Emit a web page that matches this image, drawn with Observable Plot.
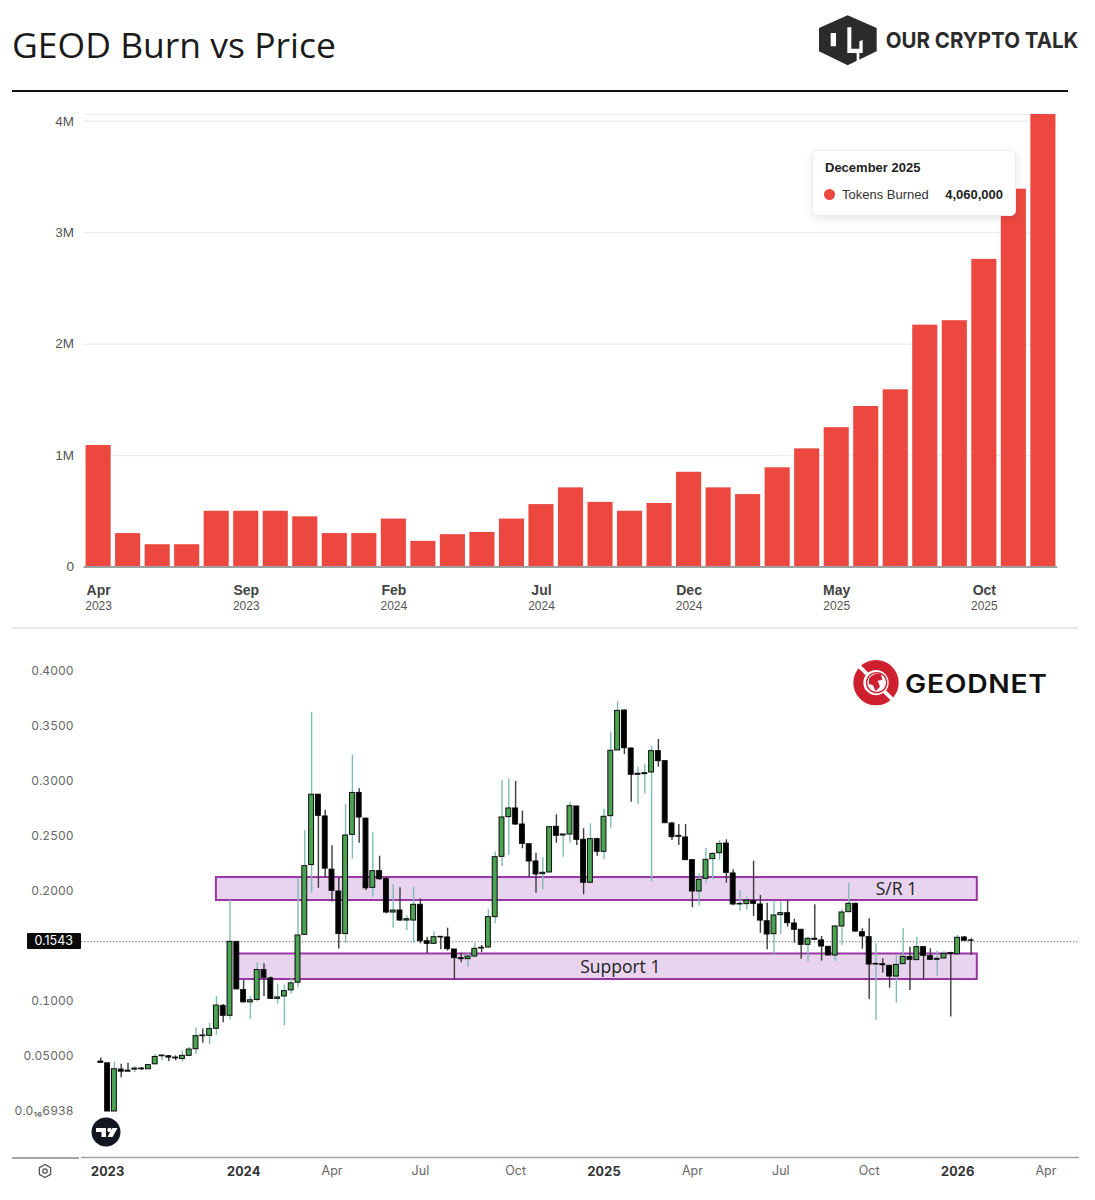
<!DOCTYPE html>
<html><head><meta charset="utf-8">
<script src="https://cdn.jsdelivr.net/npm/d3@7"></script>
<script src="https://cdn.jsdelivr.net/npm/@observablehq/plot@0.6"></script>
<style>
html,body{margin:0;padding:0;background:#fff;overflow:hidden}
#page{position:relative;width:1095px;height:1200px;overflow:hidden}
#page>*{position:absolute}
h1{margin:0;left:12px;top:20px;font:400 35.5px/48px "Open Sans",sans-serif;color:#1a1a1a;white-space:nowrap}
#tip{left:812px;top:150px;width:202px;height:64px;background:#fff;border:1px solid #eee;border-radius:5px;box-shadow:0 3px 10px rgba(0,0,0,.1);font-family:"Liberation Sans",sans-serif;color:#222;z-index:3}
#tip>*{position:absolute}
#pill{left:27px;top:933px;width:54px;height:16px;background:#0a0a0a;color:#fff;font:12.5px/16px Inter,sans-serif;text-align:right;padding-right:8px;box-sizing:border-box;border-radius:1px;z-index:3}
svg{overflow:visible}
</style></head><body><div id="page">
<h1>GEOD Burn vs Price</h1>
<svg style="left:810px;top:8px" width="275" height="65" viewBox="0 0 825 195">
  <path fill="#2b2b2b" d="M113 22L200 60V130L113 172L27 130V60Z"/>
  <path fill="#fff" d="M62 75H78V115H62ZM112 58H124V122H148V100L158 96V135H148V170H140V135H112Z"/>
  <text x="227" y="120" font-family="Inter,sans-serif" font-weight="700" font-size="66" fill="#2b2b2b" textLength="578" lengthAdjust="spacingAndGlyphs">OUR CRYPTO TALK</text>
</svg>
<div style="left:12px;top:90px;width:1056px;height:2px;background:#111"></div>
<div style="left:12px;top:627px;width:1066px;height:2px;background:#e8e8e8"></div>
<div id="top" style="left:0;top:100px"></div>
<div id="tip">
  <div style="left:12px;top:9px;font-size:13px;font-weight:bold">December 2025</div>
  <div style="left:11px;top:38px;width:11px;height:11px;border-radius:50%;background:#ec4840"></div>
  <div style="left:29px;top:36px;font-size:13px;color:#333">Tokens Burned</div>
  <div style="right:12px;top:36px;font-size:13px;font-weight:bold">4,060,000</div>
</div>
<div id="bottom" style="left:0;top:640px"></div>
<div style="left:12px;top:1157px;width:67px;height:1.5px;background:#a5a5a5"></div>
<div id="pill">0.1543</div>
<svg style="left:845px;top:652px" width="210" height="60" viewBox="0 0 630 180">
  <circle cx="93" cy="92" r="53" fill="none" stroke="#cf2030" stroke-width="30"/>
  <path d="M40 40L145 145" stroke="#fff" stroke-width="11"/>
  <circle cx="95" cy="92" r="30" fill="#fff" stroke="#cf2030" stroke-width="4"/>
  <path fill="#cf2030" d="M72 80Q85 62 108 66L112 84L98 86L105 104L92 118L84 100L72 96Z"/>
  <text x="180" y="124" font-family="Inter,sans-serif" font-weight="600" font-size="78" letter-spacing="2" fill="#111" textLength="428" lengthAdjust="spacingAndGlyphs">GEODNET</text>
</svg>
<svg style="left:91px;top:1117px" width="30" height="30" viewBox="0 0 30 30">
  <circle cx="15" cy="15" r="14.5" fill="#131722"/>
  <path fill="#fff" d="M5 11H15V20H10.5V15H5Z"/>
  <circle cx="18.5" cy="13" r="2.2" fill="#fff"/>
  <path fill="#fff" d="M21.5 11H26.5L21.5 20H16.5Z"/>
</svg>
<svg style="left:37px;top:1163px" width="16" height="16" viewBox="0 0 16 16">
  <path fill="none" stroke="#555" stroke-width="1.3" d="M8 1.5L13.6 4.7V11.3L8 14.5L2.4 11.3V4.7Z"/>
  <circle cx="8" cy="8" r="2.2" fill="none" stroke="#555" stroke-width="1.3"/>
</svg>
</div>
<script>
// ---- Tokens burned per month
const months = ["2023-04","2023-05","2023-06","2023-07","2023-08","2023-09","2023-10","2023-11","2023-12",
"2024-01","2024-02","2024-03","2024-04","2024-05","2024-06","2024-07","2024-08","2024-09","2024-10","2024-11","2024-12",
"2025-01","2025-02","2025-03","2025-04","2025-05","2025-06","2025-07","2025-08","2025-09","2025-10","2025-11","2025-12"];
const burned = [1090000,300000,200000,200000,500000,500000,500000,450000,300000,
300000,430000,230000,290000,310000,430000,560000,710000,580000,500000,570000,850000,
710000,650000,890000,1060000,1250000,1440000,1590000,2170000,2210000,2760000,3390000,4060000];
const burnTicks = [0,1000000,2000000,3000000,4000000];
const burnTickLabels = ["0","1M","2M","3M","4M"];
const monthTicks = ["2023-04","2023-09","2024-02","2024-07","2024-12","2025-05","2025-10"];
const monthTickNames = ["Apr","Sep","Feb","Jul","Dec","May","Oct"];
const monthTickYears = ["2023","2023","2024","2024","2024","2025","2025"];

// ---- Weekly GEOD candles
const open = [.0454,.0438,0,.0381,.0371,.0381,.0390,.0384,.0429,.0502,.0502,.0490,.0477,.0506,.0566,.0691,.0688,.0752,.0960,.0870,
.1542,.1104,.0992,.1014,.1286,.1210,.1024,.1046,.1101,.1171,.1606,.2240,.2880,.2682,.2198,.2000,.1613,.2515,.2896,.2662,
.2033,.2185,.2112,.1809,.1827,.1736,.1736,.1879,.1548,.1524,.1588,.1582,.1473,.1394,.1385,.1409,.1488,.1491,.1767,.2315,
.2676,.2755,.2609,.2430,.2273,.2158,.2173,.2588,.2509,.2518,.2773,.2470,.2079,.2476,.2361,.2685,.3282,.3645,.3300,.3061,
.3067,.3082,.3276,.3185,.2618,.2506,.2491,.2285,.2000,.2115,.2294,.2348,.2436,.2164,.1882,.1885,.1912,.1882,.1730,.1612,
.1785,.1803,.1709,.1652,.1515,.1570,.1555,.1497,.1418,.1682,.1812,.1888,.1630,.1585,.1336,.1339,.1324,.1227,.1339,.1403,
.1376,.1494,.1412,.1379,.1391,.1439,.1430,.1582,.1555];
const close = [.0442,0,.0384,.0362,.0362,.0390,.0384,.0422,.0496,.0509,.0490,.0483,.0506,.0563,.0685,.0685,.0749,.0963,.0870,.1542,
.1110,.0992,.1011,.1286,.1216,.1024,.1037,.1094,.1165,.1600,.2230,.2880,.2688,.2208,.2006,.1613,.2509,.2896,.2672,.2029,
.2185,.2112,.1809,.1827,.1736,.1748,.1879,.1548,.1524,.1585,.1582,.1476,.1394,.1385,.1409,.1479,.1482,.1767,.2312,.2673,
.2755,.2609,.2433,.2273,.2155,.2170,.2585,.2506,.2518,.2776,.2470,.2079,.2476,.2361,.2679,.3279,.3642,.3303,.3061,.3070,
.3076,.3276,.3185,.2621,.2494,.2497,.2285,.2000,.2106,.2288,.2342,.2433,.2170,.1882,.1888,.1918,.1888,.1736,.1609,.1782,
.1803,.1712,.1652,.1515,.1570,.1561,.1500,.1418,.1682,.1809,.1888,.1636,.1591,.1336,.1342,.1330,.1227,.1333,.1406,.1379,
.1494,.1415,.1379,.1388,.1433,.1433,.1579,.1552,.1552];
const high = [.0486,.0438,.0448,.0429,.0438,.0410,.0400,.0429,.0518,.0512,.0509,.0506,.0550,.0582,.0758,.0749,.0800,.1046,.0973,.1920,
.1542,.1190,.1046,.1350,.1344,.1222,.1158,.1149,.1206,.2118,.2557,.3629,.2880,.2739,.2416,.2118,.2790,.3238,.2934,.2669,
.2533,.2321,.2130,.2064,.2033,.1779,.2039,.1933,.1585,.1633,.1588,.1667,.1473,.1439,.1439,.1530,.1509,.1836,.2358,.3009,
.3024,.3000,.2730,.2430,.2348,.2306,.2591,.2697,.2518,.2812,.2773,.2570,.2615,.2485,.2748,.3448,.3727,.3652,.3303,.3130,
.3152,.3321,.3382,.3185,.2630,.2609,.2609,.2291,.2161,.2394,.2352,.2464,.2470,.2197,.2009,.1948,.2276,.1964,.1894,.1912,
.1903,.1918,.1748,.1652,.1585,.1879,.1591,.1500,.1691,.1833,.2076,.1894,.1661,.1752,.1524,.1388,.1330,.1421,.1661,.1494,
.1585,.1494,.1479,.1458,.1455,.1448,.1600,.1591,.1570];
const low = [.0442,0,0,.0307,.0362,.0352,.0371,.0384,.0422,.0461,.0454,.0461,.0448,.0499,.0518,.0621,.0608,.0694,.0806,.0832,
.1110,.0989,.0838,.0998,.1046,.1021,.0976,.0781,.1069,.1126,.1600,.1984,.2029,.2125,.1904,.1478,.1530,.2294,.2438,.2010,
.1948,.2100,.1797,.1667,.1730,.1645,.1530,.1524,.1433,.1518,.1470,.1458,.1197,.1352,.1312,.1397,.1445,.1485,.1706,.2227,
.2327,.2600,.2388,.2130,.1985,.2015,.2167,.2439,.2312,.2439,.2418,.1970,.2079,.2321,.2288,.2576,.3282,.3245,.2812,.2791,
.2888,.2085,.3130,.2621,.2464,.2418,.2282,.1852,.1870,.2070,.2106,.2282,.2076,.1870,.1821,.1833,.1773,.1621,.1470,.1427,
.1612,.1676,.1530,.1385,.1358,.1561,.1367,.1418,.1367,.1509,.1812,.1630,.1476,.1018,.0827,.1258,.1121,.0985,.1336,.1100,
.1373,.1197,.1373,.1230,.1385,.0858,.1427,.1548,.1418];
const lastPrice = 0.1543;
const priceTicks = [0.4,0.35,0.3,0.25,0.2,0.1,0.05,0];
const priceTickLabels = ["0.4000","0.3500","0.3000","0.2500","0.2000","0.1000","0.05000","0.0₁₆6938"];
const yearTicks = [1,21,74,126];
const yearTickLabels = ["2023","2024","2025","2026"];
const monthAxisTicks = [34,47,61,87,100,113,139];
const monthAxisLabels = ["Apr","Jul","Oct","Apr","Jul","Oct","Apr"];
const zones = [
  {name:"S/R 1", start:17, end:128.9, lo:.1918, hi:.2127, labelAt:117, labelY:.2018},
  {name:"Support 1", start:20, end:128.9, lo:.12, hi:.1432, labelAt:76.4, labelY:.1309}
];

const burnRows = months.map((m,i)=>({month:m, burned:burned[i]}));
const candles = open.map((o,i)=>({i, open:o, close:close[i], high:high[i], low:low[i], up:close[i]>=o}));
const sans = "Liberation Sans, sans-serif";

document.getElementById("top").append(Plot.plot({
  width:1095, height:525, marginLeft:83.5, marginRight:37.5, marginTop:14, marginBottom:58.5,
  style:{background:"transparent", fontFamily:sans},
  x:{type:"band", domain:months, paddingInner:.15, paddingOuter:.07, round:false, axis:null, label:null},
  y:{domain:[0,4060000], label:null, axis:null},
  marks:[
    Plot.ruleY([...burnTicks.slice(1), 4060000],{stroke:"#ededed", strokeWidth:1.2}),
    Plot.barY(burnRows,{x:"month", y:"burned", fill:"#ec4840"}),
    Plot.ruleY([0],{stroke:"#a0a0a0", strokeWidth:2}),
    Plot.axisY({ticks:burnTicks, tickFormat:d=>burnTickLabels[burnTicks.indexOf(d)], tickSize:0, tickPadding:10, fontSize:13.5, color:"#555", label:null}),
    Plot.axisX({ticks:monthTicks, tickFormat:d=>monthTickNames[monthTicks.indexOf(d)], tickSize:0, tickPadding:18, fontSize:14, fontWeight:"bold", color:"#444", label:null}),
    Plot.axisX({ticks:monthTicks, tickFormat:d=>monthTickYears[monthTicks.indexOf(d)], tickSize:0, tickPadding:34, fontSize:12, color:"#555", label:null})
  ]
}));

const inter = "Inter, sans-serif";
document.getElementById("bottom").append(Plot.plot({
  width:1095, height:545, marginLeft:81, marginRight:16, marginTop:0, marginBottom:28,
  style:{background:"transparent", fontFamily:inter},
  x:{type:"linear", domain:[-2.84,143.93], axis:null, label:null},
  y:{type:"linear", domain:[-.04182,.42818], axis:null, label:null},
  marks:[
    Plot.ruleY([-.04182],{stroke:"#a5a5a5", strokeWidth:1.5}),
    Plot.ruleY([lastPrice],{stroke:"#555", strokeWidth:1, strokeDasharray:"1.2,2"}),
    Plot.rect(zones,{x1:"start", x2:"end", y1:"lo", y2:"hi", fill:"#e9d4f0", stroke:"#9b35a8", strokeWidth:2}),
    Plot.ruleX(candles,{x:"i", y1:"low", y2:"high", stroke:d=>d.up?"#7fbdb3":"#3a3a3a", strokeWidth:1.4}),
    Plot.rect(candles,{x1:d=>d.i-.36, x2:d=>d.i+.36, y1:"open", y2:"close", fill:d=>d.up?"#4aa352":"#000", stroke:"#0c0c0c", strokeWidth:1}),
    Plot.text(zones,{x:"labelAt", y:"labelY", text:"name", fontSize:17.5, fill:"#222", fontFamily:"Open Sans, sans-serif"}),
    Plot.axisY({ticks:priceTicks, tickFormat:d=>priceTickLabels[priceTicks.indexOf(d)], tickSize:0, tickPadding:8, fontSize:12, color:"#666", label:null}),
    Plot.axisX({ticks:yearTicks, tickFormat:d=>yearTickLabels[yearTicks.indexOf(d)], tickSize:0, tickPadding:9, fontSize:13, fontWeight:"bold", color:"#333", label:null}),
    Plot.axisX({ticks:monthAxisTicks, tickFormat:d=>monthAxisLabels[monthAxisTicks.indexOf(d)], tickSize:0, tickPadding:9, fontSize:12.5, color:"#666", label:null})
  ]
}));
</script>
</body></html>
